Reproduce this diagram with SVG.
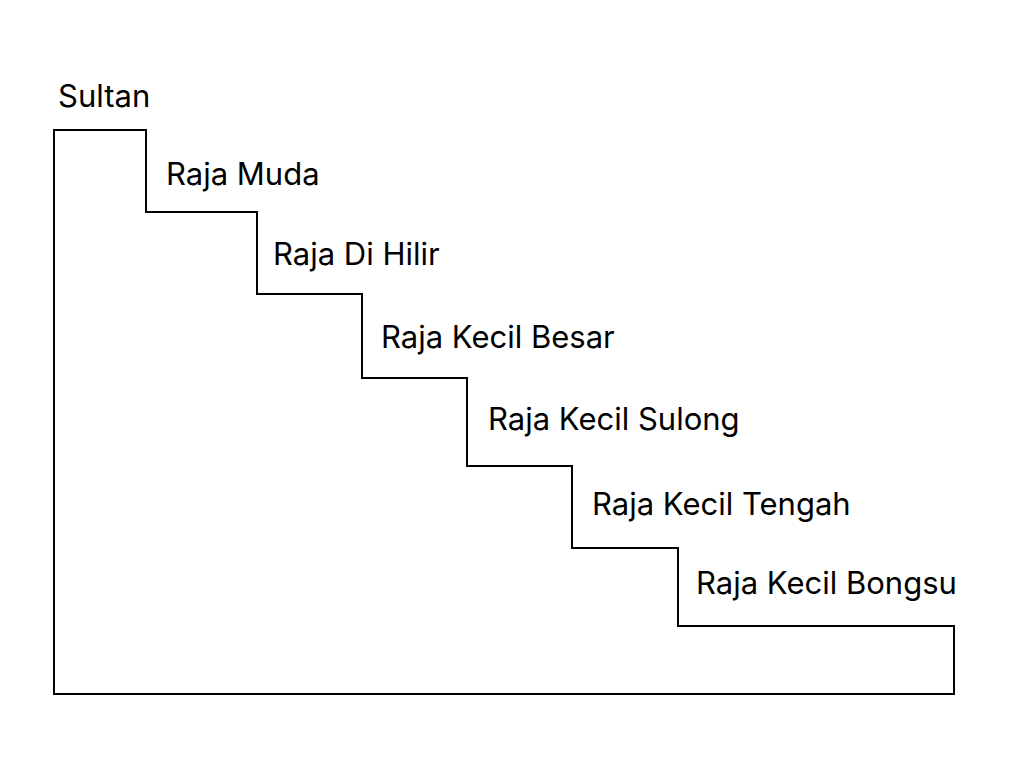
<svg xmlns="http://www.w3.org/2000/svg" width="1024" height="768" viewBox="0 0 1024 768">
<style>text{font-family:Inter,"Noto Sans",sans-serif;font-size:31px;fill:#000}</style>
<rect width="1024" height="768" fill="#fff"/>
<g id="stairs"><path d="M54,130 H146 V212 H257 V294 H362 V378 H467 V466 H572 V548 H678 V626 H954 V694 H54 Z" fill="none" stroke="#000" stroke-width="2"/></g>
<g id="labels">
<text x="58" y="107">Sultan</text>
<text x="166" y="185">Raja Muda</text>
<text x="273" y="265">Raja Di Hilir</text>
<text x="381" y="348">Raja Kecil Besar</text>
<text x="488" y="430">Raja Kecil Sulong</text>
<text x="592" y="515">Raja Kecil Tengah</text>
<text x="696" y="594">Raja Kecil Bongsu</text>
</g>
</svg>
